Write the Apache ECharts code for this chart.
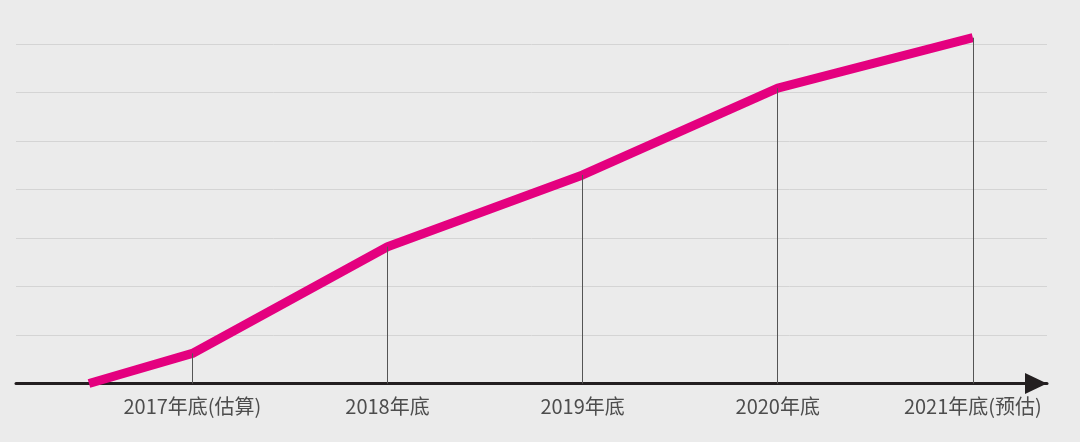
<!DOCTYPE html>
<html>
<head>
<meta charset="utf-8">
<script src="https://cdn.jsdelivr.net/npm/echarts@6/dist/echarts.min.js"></script>
<style>
html, body { margin: 0; padding: 0; background: #ebebeb; }
#container { width: 1080px; height: 442px; }
</style>
</head>
<body>
<div id="container"></div>
<script>
// x positions: 1..5 = year ends, the line starts half a step before 2017
var xPos = [0.47, 1, 2, 3, 4, 5];
var values = [0, 0.62, 2.82, 4.30, 6.09, 7.13];
var tickPos = [1, 2, 3, 4, 5];
var tickLabels = ['2017年底(估算)', '2018年底', '2019年底', '2020年底', '2021年底(预估)'];

var dom = document.getElementById("container");
var myChart = echarts.init(dom);

var lineData = [];
for (var i = 0; i < xPos.length; i++) {
    lineData.push([xPos[i], values[i]]);
}
// vertical drop lines from each year point down to the axis
var dropLines = [];
for (var i = 1; i < xPos.length; i++) {
    dropLines.push([{coord: [xPos[i], 0]}, {coord: [xPos[i], values[i]]}]);
}

var option = {
    backgroundColor: '#ebebeb',
    animation: false,
    grid: {left: 16, right: 33, top: 34.3, bottom: 58.5},
    xAxis: {
        type: 'value',
        min: 0.096,
        max: 5.38,
        splitLine: {show: false},
        axisTick: {show: false},
        axisLine: {
            show: true,
            onZero: false,
            symbol: ['none', 'triangle'],
            symbolSize: [21, 22],
            symbolOffset: [0, -11],
            lineStyle: {color: '#231f20', width: 3}
        },
        axisLabel: {
            customValues: tickPos,
            margin: 13,
            color: '#4d4d4d',
            fontSize: 20,
            fontFamily: 'Noto Sans CJK SC',
            formatter: function (v) {
                var idx = tickPos.indexOf(Math.round(v));
                return idx >= 0 && Math.abs(v - tickPos[idx]) < 1e-6 ? tickLabels[idx] : '';
            }
        }
    },
    yAxis: {
        type: 'value',
        min: 0,
        max: 7.2,
        interval: 1,
        axisLine: {show: false},
        axisTick: {show: false},
        axisLabel: {show: false},
        splitLine: {showMaxLine: false, lineStyle: {color: '#d4d4d4', width: 1}}
    },
    series: [
        {
            type: 'line',
            data: [],
            z: 1,
            silent: true,
            markLine: {
                silent: true,
                symbol: ['none', 'none'],
                label: {show: false},
                lineStyle: {color: '#555555', width: 1, type: 'solid'},
                data: dropLines
            }
        },
        {
            type: 'line',
            data: lineData,
            z: 3,
            showSymbol: false,
            symbol: 'none',
            lineStyle: {color: '#e4007f', width: 9, cap: 'butt', join: 'round'}
        }
    ]
};
myChart.setOption(option);
</script>
</body>
</html>
